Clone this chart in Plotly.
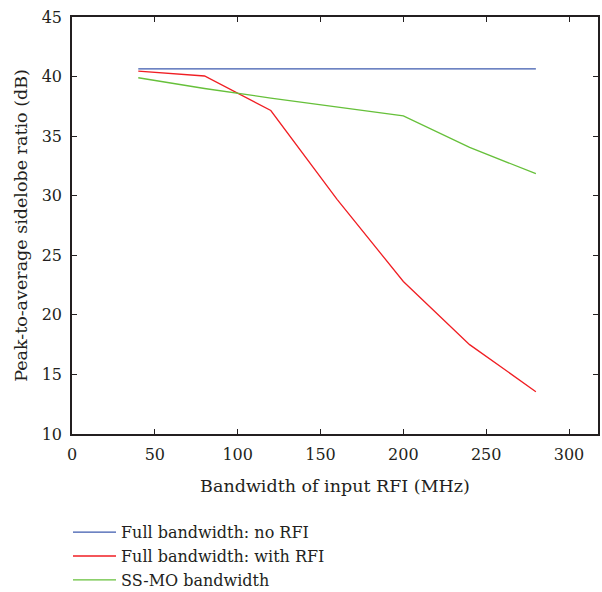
import plotly.graph_objects as go

x_vals = [40, 80, 120, 160, 200, 240, 280]
no_rfi = [40.65, 40.65, 40.65, 40.65, 40.65, 40.65, 40.65]
with_rfi = [40.45, 40.05, 37.15, 29.7, 22.8, 17.5, 13.55]
ss_mo = [39.9, 39.0, 38.2, 37.45, 36.7, 34.05, 31.85]

x_ticks = [0, 50, 100, 150, 200, 250, 300]
y_ticks = [10, 15, 20, 25, 30, 35, 40, 45]

series_names = ["Full bandwidth: no RFI", "Full bandwidth: with RFI", "SS-MO bandwidth"]
series_colors = ["#3d5aae", "#f01e23", "#66c03a"]

fig = go.Figure()
for name, ys, col in zip(series_names, [no_rfi, with_rfi, ss_mo], series_colors):
    fig.add_trace(go.Scatter(x=x_vals, y=ys, mode="lines", name=name,
                             line=dict(color=col, width=1.3)))

font_fam = "DejaVu Serif, Liberation Serif, serif"
txt_col = "#231f20"
axis_common = dict(showline=True, linecolor=txt_col, linewidth=1.5, mirror="ticks",
                   ticks="inside", ticklen=5, tickwidth=1.2, tickcolor=txt_col,
                   showgrid=False, zeroline=False, ticklabelstandoff=5,
                   tickfont=dict(family=font_fam, size=16, color=txt_col),
                   title_font=dict(family=font_fam, size=17.5, color=txt_col))

fig.update_layout(
    width=602, height=592,
    margin=dict(l=72, r=4, t=17, b=158, autoexpand=False),
    plot_bgcolor="white", paper_bgcolor="white",
    xaxis=dict(range=[0, 317.5], tickvals=x_ticks,
               title=dict(text="Bandwidth of input RFI (MHz)", standoff=17), **axis_common),
    yaxis=dict(range=[10, 45], tickvals=y_ticks,
               title=dict(text="Peak-to-average sidelobe ratio (dB)", standoff=10), **axis_common),
    legend=dict(x=-0.0076, y=-0.195, xanchor="left", yanchor="top", orientation="v",
                font=dict(family=font_fam, size=16, color=txt_col),
                tracegroupgap=0, itemwidth=43, bgcolor="rgba(0,0,0,0)"),
    showlegend=True,
)

fig.write_html("out.html")
